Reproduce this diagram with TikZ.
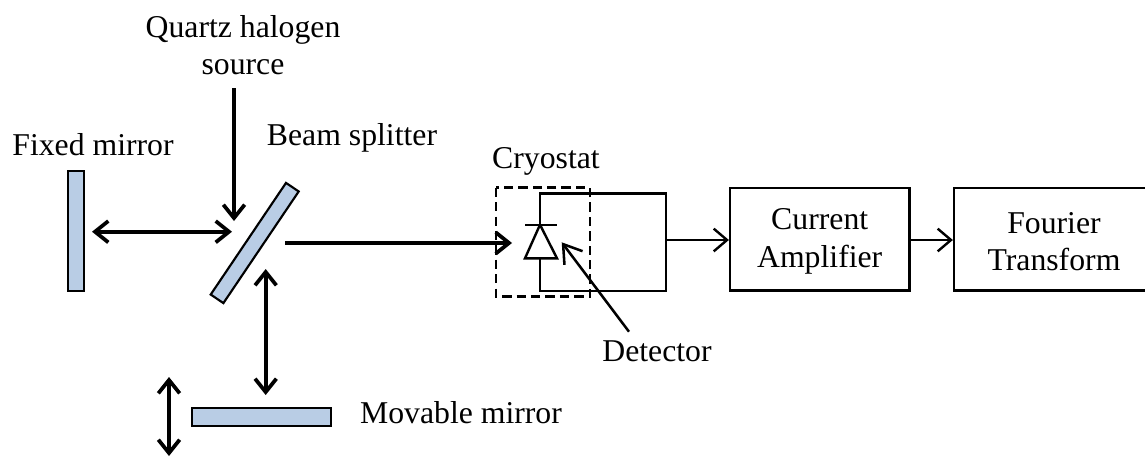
\documentclass[tikz,border=0pt]{standalone}
\usepackage{fontspec}
\setmainfont{Liberation Serif}
\usetikzlibrary{arrows.meta}
\definecolor{mirrorblue}{HTML}{B9CDE5}
\tikzset{
  mirror/.style={draw, line width=1.6pt, fill=mirrorblue, inner sep=0pt},
  block/.style={draw, line width=1.7pt, inner sep=0pt, align=center},
  lbl/.style={inner sep=0pt, align=center, font=\fontsize{23.8pt}{28pt}\selectfont},
  beam/.style={line width=2.8pt, line cap=butt},
  wire/.style={line width=1.8pt}
}
\begin{document}
\begin{tikzpicture}[x=0.75pt, y=-0.75pt, >={Straight Barb[length=10pt,width=16pt,line width=2.8pt]}]
  \useasboundingbox (0,0) rectangle (1145,457);
  % mirrors
  \node[mirror, minimum width=12pt, minimum height=90pt] (fixed) at (76,231) {};
  \node[mirror, minimum width=11.5pt, minimum height=101pt, rotate=-34] (splitter) at (254.7,243) {};
  \node[mirror, minimum width=104pt, minimum height=13.5pt] (movable) at (261.5,417) {};
  % labels
  \node[lbl] (source) at (243,45) {Quartz halogen\\source};
  \node[lbl, anchor=base] (fixedlbl) at (93,155) {Fixed mirror};
  \node[lbl, anchor=base] (splitlbl) at (352,145) {Beam splitter};
  \node[lbl, anchor=base] (cryolbl) at (546,168.3) {Cryostat};
  \node[lbl, anchor=base] (detlbl) at (657,361) {Detector};
  \node[lbl, anchor=base] (movlbl) at (461,423.3) {Movable mirror};
  % blocks
  \node[block, minimum width=134.5pt, minimum height=77pt, lbl] (amp) at (819.7,239.2) {\rule{0pt}{19pt}Current\\Amplifier};
  \node[block, minimum width=150pt, minimum height=77pt, lbl] (ft) at (1054,239.2) {\rule{0pt}{19pt}Fourier\\Transform};
  % beams
  \coordinate (fixedend) at (92,231.7);
  \coordinate (splitleft) at (232,231.7);
  \coordinate (sourcetop) at (234,88);
  \coordinate (sourcetip) at (234,221);
  \coordinate (splitlow) at (265.7,269);
  \coordinate (movtop) at (265.7,395);
  \coordinate (shifttop) at (169,377);
  \coordinate (shiftlow) at (169,456);
  \coordinate (outstart) at (285,243);
  \coordinate (outtip) at (512,243);
  \draw[beam, ->] (sourcetop) -- (sourcetip);
  \draw[beam, <->] (fixedend) -- (splitleft);
  \draw[beam, <->] (splitlow) -- (movtop);
  \draw[beam, <->] (shifttop) -- (shiftlow);
  \draw[beam, ->] (outstart) -- (outtip);
  % cryostat
  \draw[line width=2.1pt, dash pattern=on 7pt off 3.8pt] (496,187.7) rectangle (590,296.7);
  % detector circuit
  \coordinate (diodetop) at (540,224.7);
  \coordinate (diodelow) at (540,258.3);
  \coordinate (loopout) at (666,240);
  \draw[wire] (diodetop) -- (540,193.3) -- (666,193.3) -- (666,290.7) -- (540,290.7) -- (diodelow);
  \draw[wire] (525,224.7) -- (557,224.7);
  \draw[wire] (diodetop) -- (557,258.3) -- (525,258.3) -- cycle;
  % signal
  \draw[wire, ->, >={Straight Barb[length=10pt,width=17pt,line width=1.8pt]}] (loopout) -- (amp.west |- loopout);
  \draw[wire, ->, >={Straight Barb[length=10pt,width=17pt,line width=1.8pt]}] (amp.east |- loopout) -- (ft.west |- loopout);
  \coordinate (detstart) at (629,331.7);
  \coordinate (dettip) at (561.7,242.3);
  \draw[line width=1.9pt, ->, >={Straight Barb[length=13pt,width=17pt,line width=1.9pt]}] (detstart) -- (dettip);
\end{tikzpicture}
\end{document}
